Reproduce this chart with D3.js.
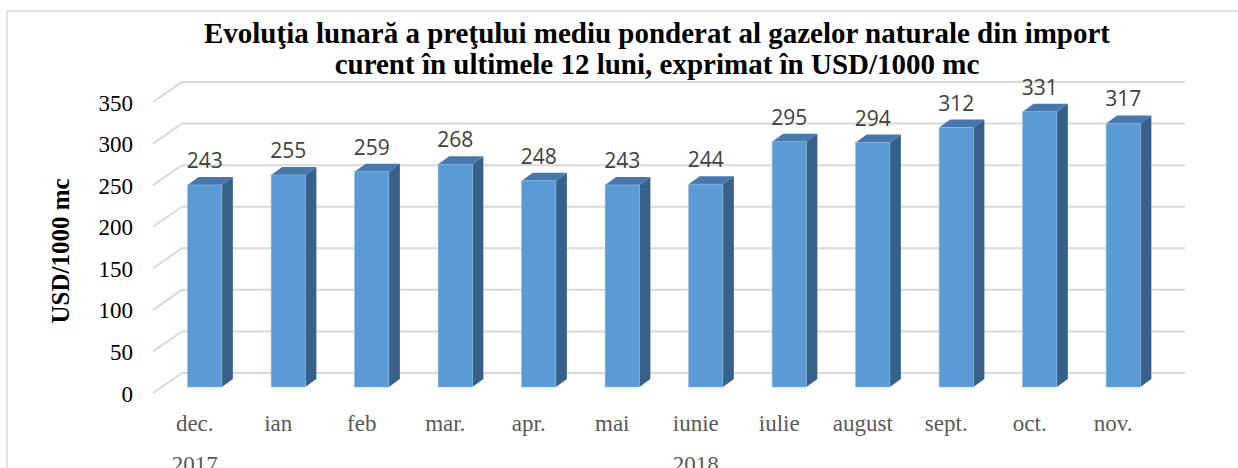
<!DOCTYPE html>
<html>
<head>
<meta charset="utf-8">
<script src="https://cdn.jsdelivr.net/npm/d3@7"></script>
<style>
  body { margin: 0; background: #fff; }
  svg { display: block; }
</style>
</head>
<body>
<svg id="chart" width="1238" height="468"></svg>
<script>
const months = ['dec.', 'ian', 'feb', 'mar.', 'apr.', 'mai', 'iunie', 'iulie', 'august', 'sept.', 'oct.', 'nov.'];
const years = ['2017', '', '', '', '', '', '2018', '', '', '', '', ''];
const prices = [243, 255, 259, 268, 248, 243, 244, 295, 294, 312, 331, 317];
const yTicks = [0, 50, 100, 150, 200, 250, 300, 350];
const titleLines = [
  'Evoluţia lunară a preţului mediu ponderat al gazelor naturale din import',
  'curent în ultimele 12 luni, exprimat în USD/1000 mc'
];

const svg = d3.select('#chart');

// back wall scale, floor offset for the 3d look
const y = d3.scaleLinear().domain([0, 350]).range([373, 82]);
const x = d3.scaleBand().domain(months)
  .range([163, 1165])
  .paddingInner(0.59)
  .paddingOuter(0.295);
const wallLeft = 182, wallRight = 1185;
const floorDx = -29, floorDy = 20;
const barDy = 14;          // bars sit between wall and front edge
const depth = { dx: 11, dy: -8 };
const serif = '"Liberation Serif", "Times New Roman", serif';

// outer frame
svg.append('path')
  .attr('d', 'M7,468 L7,11 L1238,11')
  .attr('fill', 'none')
  .attr('stroke', '#d9d9d9')
  .attr('stroke-width', 1.5);

// gridlines: diagonal on the left side wall, then along the back wall
svg.append('g').selectAll('path')
  .data(yTicks)
  .enter()
  .append('path')
  .attr('d', v => `M${wallLeft + floorDx},${y(v) + floorDy} L${wallLeft},${y(v)} L${wallRight},${y(v)}`)
  .attr('fill', 'none')
  .attr('stroke', '#d9d9d9')
  .attr('stroke-width', 2);

// y tick labels
svg.append('g').selectAll('text')
  .data(yTicks)
  .enter()
  .append('text')
  .attr('x', 133)
  .attr('y', v => y(v) + floorDy + 1)
  .attr('text-anchor', 'end')
  .attr('dominant-baseline', 'central')
  .attr('font-family', serif)
  .attr('font-size', 23)
  .attr('fill', '#000')
  .text(d => d);

// bars
const bars = svg.append('g').selectAll('g')
  .data(prices)
  .enter()
  .append('g');

const bx = (d, i) => x(months[i]);
const bw = x.bandwidth();
const base = y(0) + barDy;

bars.append('path')   // side
  .attr('d', (d, i) => {
    const r = bx(d, i) + bw, top = y(d) + barDy;
    return `M${r},${base} L${r + depth.dx},${base + depth.dy} L${r + depth.dx},${top + depth.dy} L${r},${top} Z`;
  })
  .attr('fill', '#386189');

bars.append('path')   // top
  .attr('d', (d, i) => {
    const l = bx(d, i), top = y(d) + barDy;
    return `M${l},${top} L${l + depth.dx},${top + depth.dy} L${l + bw + depth.dx},${top + depth.dy} L${l + bw},${top} Z`;
  })
  .attr('fill', '#4678ad');

bars.append('rect')   // front
  .attr('x', (d, i) => bx(d, i))
  .attr('y', d => y(d) + barDy)
  .attr('width', bw)
  .attr('height', d => base - (y(d) + barDy))
  .attr('fill', '#5b9bd5')
  .attr('stroke', '#8cb8e2')
  .attr('stroke-width', 0.6);

// value labels
bars.append('text')
  .attr('x', (d, i) => bx(d, i) + bw / 2)
  .attr('y', d => y(d) + barDy + depth.dy - 9)
  .attr('text-anchor', 'middle')
  .attr('font-family', '"Open Sans", sans-serif')
  .attr('font-size', 21)
  .attr('fill', '#404040')
  .text(d => d);

// category labels (month, year below)
const cats = svg.append('g').selectAll('g')
  .data(months)
  .enter()
  .append('g')
  .attr('font-family', serif)
  .attr('font-size', 23)
  .attr('fill', '#595959')
  .attr('text-anchor', 'middle');

cats.append('text')
  .attr('x', m => x(m) + bw / 2 - 10)
  .attr('y', 431)
  .text(m => m);

cats.append('text')
  .attr('x', m => x(m) + bw / 2 - 10)
  .attr('y', 472)
  .text((m, i) => years[i]);

// y axis title
svg.append('text')
  .attr('transform', 'translate(69,251) rotate(-90)')
  .attr('text-anchor', 'middle')
  .attr('font-family', serif)
  .attr('font-weight', 'bold')
  .attr('font-size', 25)
  .attr('fill', '#000')
  .text('USD/1000 mc');

// title
svg.append('g').selectAll('text')
  .data(titleLines)
  .enter()
  .append('text')
  .attr('x', 657)
  .attr('y', (d, i) => 43 + i * 31)
  .attr('text-anchor', 'middle')
  .attr('font-family', serif)
  .attr('font-weight', 'bold')
  .attr('font-size', 29)
  .attr('fill', '#000')
  .text(d => d);
</script>
</body>
</html>
